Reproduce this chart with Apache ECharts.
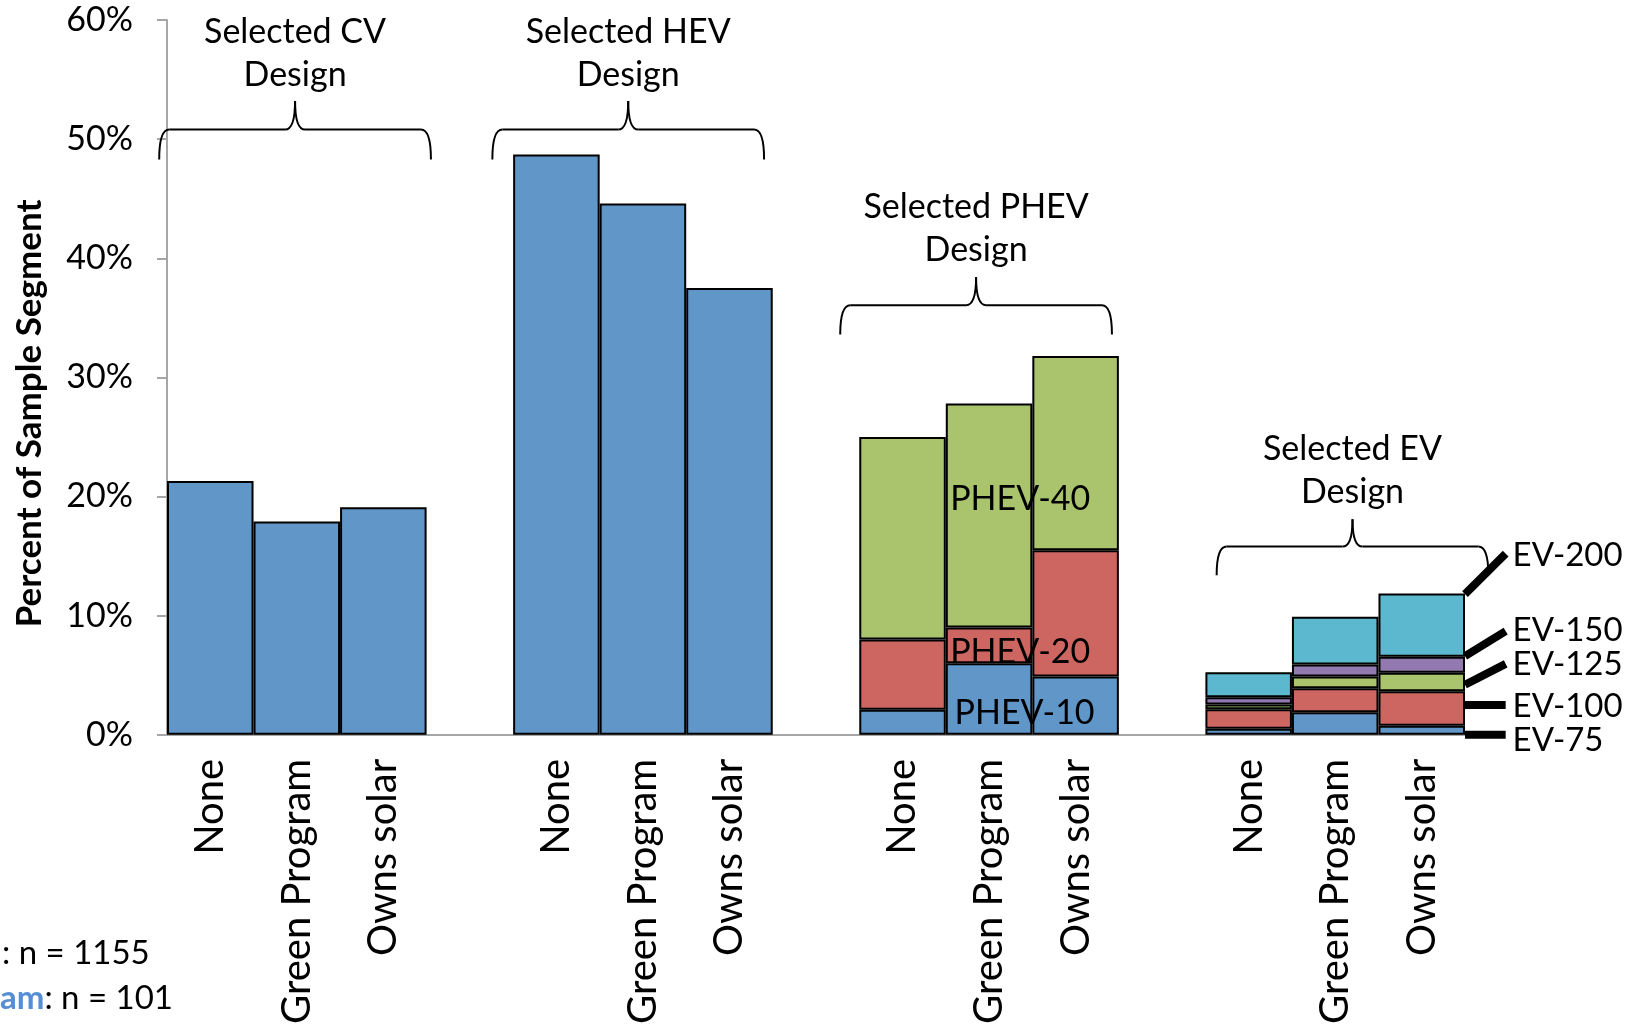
<!DOCTYPE html>
<html>
<head>
<meta charset="utf-8">
<title>Selected vehicle design by sample segment</title>
<script src="https://cdn.jsdelivr.net/npm/echarts@6/dist/echarts.min.js"></script>
<style>
  html, body { margin: 0; padding: 0; background: #fff; }
  #chart { width: 1642px; height: 1027px; }
</style>
</head>
<body>
<div id="chart"></div>
<script>
// three sample segments per design group, an empty slot between groups
const segments = ['None', 'Green Program', 'Owns solar']
const categories = [...segments, '', ...segments, '', ...segments, '', ...segments]

// percent of sample segment
const cvShare = [21.3, 17.9, 19.1]
const hevShare = [48.7, 44.6, 37.5]
const phev10 = [2.1, 6.0, 4.9]
const phev20 = [5.9, 3.0, 10.6]
const phev40 = [17.0, 18.8, 16.3]
const ev75 = [0.5, 1.9, 0.75]
const ev100 = [1.65, 2.0, 2.9]
const ev125 = [0.4, 1.0, 1.55]
const ev150 = [0.6, 1.0, 1.35]
const ev200 = [2.1, 4.0, 5.3]

const groupTitles = ['Selected CV\nDesign', 'Selected HEV\nDesign', 'Selected PHEV\nDesign', 'Selected EV\nDesign']
const phevNames = ['PHEV-10', 'PHEV-20', 'PHEV-40']
const evNames = ['EV-75', 'EV-100', 'EV-125', 'EV-150', 'EV-200']

const FONT = 'Lato'
const COLORS = ['#6196c9', '#cd6660', '#aac46d', '#927ab0', '#5bb8cf']

// one row across the 15 slots, null where a group has no such layer
const blank = [null, null, null]
function row(cv, hev, phev, ev) {
  return [...(cv || blank), null, ...(hev || blank), null, ...(phev || blank), null, ...(ev || blank)]
}

const layers = [
  { name: 'base', data: row(cvShare, hevShare, phev10, ev75) },
  { name: 'second', data: row(null, null, phev20, ev100) },
  { name: 'third', data: row(null, null, phev40, ev125) },
  { name: 'fourth', data: row(null, null, null, ev150) },
  { name: 'fifth', data: row(null, null, null, ev200) },
]

const chart = echarts.init(document.getElementById('chart'))

chart.setOption({
  animation: false,
  textStyle: { fontFamily: FONT },
  grid: { left: 167, right: 177, top: 20, bottom: 285 },
  xAxis: {
    type: 'category',
    data: categories,
    axisLine: { lineStyle: { color: '#a6a6a6', width: 2 } },
    axisTick: { length: 13, interval: 0, lineStyle: { color: '#a6a6a6', width: 2 } },
    axisLabel: { rotate: 90, interval: 0, margin: 24, fontSize: 40, color: '#000', fontFamily: FONT },
  },
  yAxis: {
    type: 'value',
    min: 0,
    max: 60,
    interval: 10,
    name: 'Percent of Sample Segment',
    nameLocation: 'middle',
    nameGap: 120,
    nameTextStyle: { fontSize: 35, fontWeight: 'bold', color: '#000', fontFamily: FONT, padding: [0, 72, 0, 0] },
    splitLine: { show: false },
    axisLine: { show: true, lineStyle: { color: '#a6a6a6', width: 2 } },
    axisTick: { show: true, length: 10, lineStyle: { color: '#a6a6a6', width: 2 } },
    axisLabel: { formatter: '{value}%', fontSize: 34, color: '#000', margin: 34, fontFamily: FONT },
  },
  series: layers.map((l, i) => ({
    name: l.name,
    type: 'bar',
    stack: 'total',
    barWidth: '100%',
    barCategoryGap: 0,
    data: l.data,
    itemStyle: { color: COLORS[i], borderColor: '#000', borderWidth: 2 },
  })),
})

// annotation anchors in axis units: [category index, percent]
function toPx(idx, val) {
  const a = chart.convertToPixel({ gridIndex: 0 }, [0, val])
  const b = chart.convertToPixel({ gridIndex: 0 }, [1, val])
  return [a[0] + (b[0] - a[0]) * idx, a[1]]
}

const braces = [
  { center: 0.98, half: 1.57, line: 50.8, tip: 53.2, end: 48.3, title: 57.2 },
  { center: 4.83, half: 1.57, line: 50.8, tip: 53.2, end: 48.3, title: 57.2 },
  { center: 8.85, half: 1.57, line: 36.05, tip: 38.4, end: 33.6, title: 42.5 },
  { center: 13.2, half: 1.57, line: 15.8, tip: 18.1, end: 13.4, title: 22.2 },
]

const phevLabelAt = [[9.41, 1.8], [9.36, 6.95], [9.36, 19.8]]
// leader lines: start on the right edge of the last EV bar, end beside the label
const evLeaders = [
  { from: 0.0, to: 0.0, label: -0.5 },
  { from: 2.5, to: 2.5, label: 2.35 },
  { from: 4.2, to: 5.95, label: 5.95 },
  { from: 6.6, to: 8.7, label: 8.8 },
  { from: 11.8, to: 15.2, label: 15.1 },
]

const graphic = []
const stroke = { stroke: '#000', lineWidth: 2, fill: null }

function curve(x1, y1, cpx, cpy, x2, y2) {
  graphic.push({ type: 'bezierCurve', z: 100, shape: { x1, y1, x2, y2, cpx1: cpx, cpy1: cpy }, style: stroke })
}
function segment(x1, y1, x2, y2, style) {
  graphic.push({ type: 'line', z: 100, shape: { x1, y1, x2, y2 }, style: style || stroke })
}
function label(x, y, text, style) {
  graphic.push({
    type: 'text', z: 100, x, y,
    style: Object.assign({ text, fontSize: 34, fontFamily: FONT, fill: '#000', verticalAlign: 'middle' }, style),
  })
}

braces.forEach((b, i) => {
  const [x1, yLine] = toPx(b.center - b.half, b.line)
  const [x2] = toPx(b.center + b.half, b.line)
  const [cx, yTip] = toPx(b.center, b.tip)
  const yEnd = toPx(0, b.end)[1]
  const r = 10
  curve(x1, yEnd, x1, yLine, x1 + r, yLine)
  segment(x1 + r, yLine, cx - r, yLine)
  curve(cx - r, yLine, cx, yLine, cx, yTip)
  curve(cx, yTip, cx, yLine, cx + r, yLine)
  segment(cx + r, yLine, x2 - r, yLine)
  curve(x2 - r, yLine, x2, yLine, x2, yEnd)

  const [tx, ty] = toPx(b.center, b.title)
  label(tx, ty, groupTitles[i], { align: 'center', lineHeight: 43 })
})

phevNames.forEach((name, i) => {
  const [x, y] = toPx(phevLabelAt[i][0], phevLabelAt[i][1])
  label(x, y, name, { align: 'center' })
})

evNames.forEach((name, i) => {
  const l = evLeaders[i]
  const [x1, y1] = toPx(14.5, l.from)
  const [x2, y2] = toPx(14.97, l.to)
  segment(x1, y1, x2, y2, { stroke: '#000', lineWidth: 8 })
  const [tx, ty] = toPx(15.05, l.label)
  label(tx, ty, name, { fontSize: 33, align: 'left' })
})

// sample size notes, cut off at the left edge of the picture
label(2, 953, ': n = 1155', { fontSize: 33 })
label(0, 998, '{b|am}: n = 101', {
  fontSize: 33,
  rich: { b: { fontSize: 33, fontFamily: FONT, fontWeight: 'bold', fill: '#558ed5' } },
})

chart.setOption({ graphic })
</script>
</body>
</html>
